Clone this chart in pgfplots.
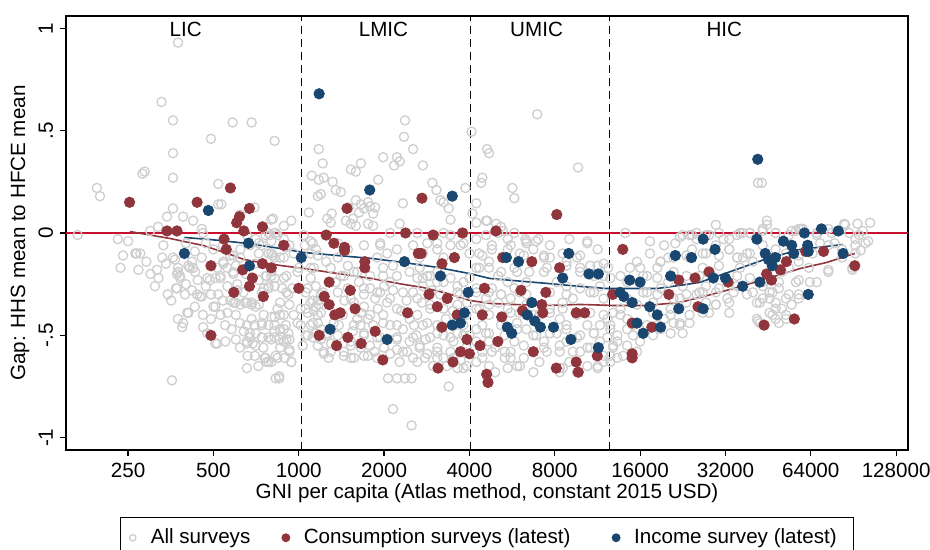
\documentclass[border=0pt]{standalone}
\usepackage{pgfplots}
\usepackage{pgfplotstable}
\usepackage{fontspec}
\setmainfont{Liberation Sans}
\pgfplotsset{compat=1.18}
\definecolor{allgrey}{RGB}{206,206,206}
\definecolor{cons}{RGB}{144,53,59}
\definecolor{inc}{RGB}{26,71,111}
\definecolor{zeroline}{RGB}{200,16,46}

\pgfplotstableread{
x y
375 0.93
328 0.64
360 0.55
584 0.54
682 0.54
490 0.46
822 0.45
360 0.39
281 0.29
286 0.30
360 0.27
194 0.22
199 0.18
520 0.24
520 0.14
533 0.14
360 0.12
343 0.08
391 0.08
424 0.06
698 0.125
800 0.065
622 0.09
319 0.03
299 0.01
455 0.02
459 0.0
166 -0.01
794 -0.01
829 0.0
240 -0.11
265 -0.10
276 -0.10
235 -0.17
272 -0.18
311 -0.26
333 -0.06
366 -0.13
372 -0.20
381 -0.21
375 -0.17
369 -0.27
397 -0.30
413 -0.17
420 -0.14
431 -0.19
455 -0.12
438 -0.30
448 -0.31
476 -0.22
508 -0.22
529 -0.21
516 -0.17
542 -0.14
500 -0.36
459 -0.40
404 -0.39
375 -0.42
391 -0.44
388 -0.46
476 -0.49
508 -0.54
551 -0.53
560 -0.26
588 -0.34
622 -0.35
656 -0.34
682 -0.34
723 -0.35
656 -0.45
682 -0.42
698 -0.45
672 -0.49
656 -0.53
688 -0.54
752 -0.40
800 -0.41
741 -0.45
782 -0.51
822 -0.51
741 -0.51
656 -0.66
758 -0.61
770 -0.63
829 -0.60
829 -0.71
357 -0.72
607 -0.28
638 -0.29
752 -0.27
782 -0.27
800 -0.21
822 -0.22
770 -0.21
588 -0.20
560 -0.17
622 -0.12
588 -0.11
723 -0.10
800 -0.10
723 -0.05
656 -0.01
782 0.0
1176 0.41
1215 0.34
1111 0.28
1176 0.26
1225 0.27
1317 0.25
1196 0.19
1167 0.18
1350 0.21
1407 0.20
1085 0.10
1307 0.095
1260 0.07
1297 0.05
1527 0.31
1590 0.30
1657 0.34
1985 0.37
2220 0.37
2170 0.33
2270 0.35
2370 0.55
2350 0.47
2530 0.41
2740 0.33
1907 0.26
1502 0.125
1590 0.16
1657 0.14
1755 0.15
1785 0.13
1698 0.12
1630 0.10
1830 0.095
1860 0.125
1466 0.06
1527 0.045
1552 0.07
1590 0.035
1755 0.045
1830 0.035
2330 0.145
2270 0.045
2960 0.245
3060 0.21
3160 0.16
3240 0.15
3380 0.12
3430 0.065
3870 0.22
4070 0.495
4230 0.145
4100 0.095
4440 0.27
4400 0.245
4620 0.41
4690 0.39
811 0.07
886 0.035
941 0.06
2100 0.0
2620 0.0
3240 0.0
6940 0.58
9670 0.32
5670 0.22
5760 0.17
4620 0.06
4970 0.045
5250 0.01
6300 -0.03
7000 -0.03
10420 -0.04
23900 -0.01
24400 -0.01
14180 0.0
41700 0.245
43000 0.245
29600 0.04
44800 0.06
56700 0.01
59100 0.02
83900 0.045
93500 0.045
103600 0.05
36900 0.0
800 -0.04
841 -0.01
811 -0.11
859 -0.12
822 -0.26
874 -0.27
841 -0.37
859 -0.40
822 -0.45
886 -0.47
853 -0.52
927 -0.58
893 -0.61
941 -0.63
853 -0.71
905 -0.52
1102 -0.04
1102 -0.10
1130 -0.17
1102 -0.22
1076 -0.27
1120 -0.33
1076 -0.39
1130 -0.38
1120 -0.44
1076 -0.50
1148 -0.49
1167 -0.55
1225 -0.58
1275 -0.61
1176 -0.35
1167 -0.40
1196 -0.30
1373 -0.12
1490 -0.16
1565 -0.19
1407 -0.21
1630 -0.24
1490 -0.27
1698 -0.30
1785 -0.27
1860 -0.32
1565 -0.34
1657 -0.39
1755 -0.42
1830 -0.45
1565 -0.45
1698 -0.50
1891 -0.51
1785 -0.55
1442 -0.58
1565 -0.61
1755 -0.60
2065 -0.71
2220 -0.71
2370 -0.71
2500 -0.71
2150 -0.86
2500 -0.94
3380 -0.75
1939 -0.06
2050 -0.10
1891 -0.12
2150 -0.16
1985 -0.21
2100 -0.24
1939 -0.29
2050 -0.34
2220 -0.37
1985 -0.40
2100 -0.45
2330 -0.47
2220 -0.51
2460 -0.53
2670 -0.56
2330 -0.58
2530 -0.61
2790 -0.61
3080 -0.58
3240 -0.61
2980 -0.65
2460 -0.19
2620 -0.22
2840 -0.21
2740 -0.26
3080 -0.24
2530 -0.29
2720 -0.34
2910 -0.37
2620 -0.40
2840 -0.44
3080 -0.45
3240 -0.50
2910 -0.51
3510 -0.53
3630 -0.49
3810 -0.45
4000 -0.50
4230 -0.53
4440 -0.58
3630 -0.26
4000 -0.22
4330 -0.17
4230 -0.29
4580 -0.32
3810 -0.05
4230 -0.03
4000 -0.10
4440 -0.11
3430 -0.06
3080 -0.08
2840 -0.05
2670 -0.12
3240 -0.12
905 -0.21
1000 -0.17
919 -0.30
1016 -0.37
1016 -0.45
1033 -0.55
1260 -0.50
1373 -0.50
1385 -0.45
1430 -0.40
1328 -0.44
1527 -0.55
1657 -0.56
841 -0.61
800 -0.63
4580 -0.01
5050 0.0
5460 -0.03
6350 -0.04
10420 -0.05
4330 -0.10
4800 -0.08
5590 -0.06
6020 -0.10
6720 -0.08
7330 -0.11
7690 -0.12
8800 -0.14
9580 -0.12
10670 -0.16
11890 -0.15
12350 -0.17
14740 -0.17
16000 -0.17
18900 -0.14
20100 -0.12
23300 -0.11
24400 -0.08
25300 -0.03
4690 -0.17
5050 -0.21
5460 -0.24
4800 -0.27
5170 -0.30
5590 -0.32
5890 -0.19
6350 -0.24
7330 -0.19
8130 -0.24
8800 -0.26
9830 -0.27
10670 -0.29
11550 -0.26
9260 -0.32
8530 -0.34
7690 -0.37
8330 -0.42
8800 -0.45
8130 -0.49
8800 -0.53
8330 -0.58
9000 -0.63
8530 -0.66
9580 -0.68
8330 -0.68
10420 -0.45
10990 -0.49
11550 -0.45
12260 -0.42
12850 -0.39
12560 -0.47
13300 -0.50
12850 -0.55
12560 -0.60
13300 -0.61
11550 -0.53
10670 -0.56
11890 -0.63
13640 -0.37
14400 -0.42
15100 -0.45
16920 -0.45
17780 -0.50
18900 -0.47
19450 -0.42
21000 -0.44
22100 -0.45
23900 -0.44
22600 -0.49
20500 -0.37
23300 -0.34
25300 -0.30
22100 -0.32
17780 -0.34
16920 -0.29
18900 -0.27
20100 -0.24
22600 -0.26
16920 -0.21
18400 -0.22
15600 -0.14
17330 -0.10
19450 -0.06
5590 -0.39
5890 -0.44
5330 -0.50
5760 -0.53
5330 -0.58
5590 -0.61
6220 -0.61
6720 -0.68
5890 -0.65
5460 -0.66
4580 -0.49
4690 -0.53
4800 -0.58
4440 -0.61
4690 -0.65
4930 -0.68
4440 -0.45
4330 -0.37
4690 -0.35
5050 -0.34
6350 -0.47
6880 -0.50
7330 -0.53
7500 -0.58
7060 -0.63
9580 -0.51
9830 -0.58
10420 -0.65
11330 -0.66
14400 -0.55
15100 -0.50
16000 -0.53
15600 -0.58
9830 -0.17
10990 -0.21
12560 -0.22
13640 -0.21
6350 -0.35
7060 -0.40
6020 -0.29
27300 -0.01
30350 0.0
33000 -0.03
36000 0.0
39000 0.0
43300 0.01
44800 0.04
48100 0.0
54800 0.01
58000 0.02
67200 0.0
73800 0.02
87500 0.0
91900 -0.03
97700 0.01
27300 -0.10
30350 -0.11
33000 -0.08
35200 -0.12
38100 -0.10
40000 -0.14
36000 -0.17
48100 -0.08
52300 -0.10
58000 -0.11
65000 -0.10
69000 -0.05
77700 -0.05
82500 -0.08
91900 -0.06
27300 -0.26
29600 -0.29
27300 -0.34
28000 -0.39
29600 -0.35
32500 -0.32
33000 -0.39
34200 -0.29
38100 -0.30
40000 -0.29
42300 -0.34
45800 -0.32
46900 -0.29
49400 -0.27
52300 -0.32
48100 -0.37
52300 -0.40
49400 -0.44
46900 -0.40
54800 -0.35
58000 -0.30
41700 -0.43
73800 -0.18
89700 -0.18
58000 -0.23
63500 -0.24
43300 -0.26
39000 -0.22
35200 -0.21
25900 -0.21
25900 -0.29
36900 -0.12
50600 -0.19
53500 -0.17
102000 -0.04
96000 -0.085
17330 -0.04
21300 -0.05
22100 -0.02
268 -0.10
360 -0.12
375 -0.19
381 -0.22
372 -0.27
408 -0.16
424 -0.17
455 -0.31
408 -0.39
508 -0.36
516 -0.54
486 -0.23
529 -0.22
542 -0.15
574 -0.11
588 -0.19
607 -0.25
574 -0.33
598 -0.34
647 -0.34
682 -0.35
705 -0.36
741 -0.29
782 -0.26
723 -0.23
764 -0.21
800 -0.19
822 -0.12
782 -0.10
741 -0.06
705 -0.03
672 -0.06
622 -0.08
764 -0.01
822 0.0
886 -0.03
927 -0.06
886 -0.12
990 -0.19
886 -0.22
905 -0.29
859 -0.34
927 -0.35
886 -0.40
822 -0.41
782 -0.45
822 -0.48
859 -0.47
919 -0.49
990 -0.44
741 -0.44
705 -0.49
672 -0.51
741 -0.51
800 -0.52
886 -0.53
927 -0.52
656 -0.54
705 -0.55
764 -0.61
782 -0.63
927 -0.57
941 -0.63
853 -0.70
316 -0.18
1041 -0.01
1120 -0.05
1167 -0.11
1102 -0.17
1148 -0.26
1058 -0.29
1102 -0.34
1148 -0.36
1196 -0.39
1167 -0.44
1102 -0.45
1058 -0.50
1120 -0.51
1196 -0.52
1260 -0.49
1225 -0.59
1297 -0.58
1442 -0.60
1527 -0.61
1698 -0.60
1891 -0.61
2100 -0.59
2220 -0.57
2410 -0.58
2620 -0.63
2270 -0.63
2840 -0.59
3080 -0.61
3330 -0.65
3510 -0.61
3810 -0.58
3810 -0.66
1373 -0.05
1490 -0.08
1698 -0.06
1939 -0.05
2220 -0.08
2530 -0.06
2740 -0.10
3080 -0.05
3430 -0.01
3720 -0.06
3810 0.0
1297 -0.17
1442 -0.21
1610 -0.19
1785 -0.21
1985 -0.17
2220 -0.21
2740 -0.22
3080 -0.19
3430 -0.22
3810 -0.24
2670 -0.17
2910 -0.21
3240 -0.24
3630 -0.29
3330 -0.32
1373 -0.29
1527 -0.32
1698 -0.27
1891 -0.29
2100 -0.32
2330 -0.29
2620 -0.32
2910 -0.35
3240 -0.37
3630 -0.35
3920 -0.34
1407 -0.39
1610 -0.42
1785 -0.40
1985 -0.44
2220 -0.45
2460 -0.42
2740 -0.45
3080 -0.49
3430 -0.51
3810 -0.50
1698 -0.49
1939 -0.51
2220 -0.52
2530 -0.51
1527 -0.53
2670 -0.55
3080 -0.56
3430 -0.58
3720 -0.62
3920 -0.65
3630 -0.66
1058 -0.37
1167 -0.33
1215 -0.29
4230 0.05
4580 0.06
5170 0.03
5760 0.0
6350 -0.05
6880 -0.04
7690 -0.06
9000 -0.03
11330 -0.08
9830 -0.11
8530 -0.10
7330 -0.12
6220 -0.11
5460 -0.08
4800 -0.06
4230 -0.17
4690 -0.14
5170 -0.19
5760 -0.17
6500 -0.19
7500 -0.17
8800 -0.16
9830 -0.19
11330 -0.16
11890 -0.21
4230 -0.27
4690 -0.29
5170 -0.30
5760 -0.27
6350 -0.30
7690 -0.29
8800 -0.30
10990 -0.29
11890 -0.32
4230 -0.37
4690 -0.40
5460 -0.37
6020 -0.39
6720 -0.40
7690 -0.39
8530 -0.37
9580 -0.40
10670 -0.39
11890 -0.40
12560 -0.45
4230 -0.47
4690 -0.49
5170 -0.45
5890 -0.47
6720 -0.50
7690 -0.49
8800 -0.47
9830 -0.50
10990 -0.49
12260 -0.51
13300 -0.53
4330 -0.55
4930 -0.56
5590 -0.58
6220 -0.55
7330 -0.56
8330 -0.55
9260 -0.58
10420 -0.56
11890 -0.60
12850 -0.56
4230 -0.63
5330 -0.61
6020 -0.65
8330 -0.66
11330 -0.65
12560 -0.63
13950 -0.60
13640 -0.40
14400 -0.47
16400 -0.49
18400 -0.45
20500 -0.49
22100 -0.44
23900 -0.40
26600 -0.39
29600 -0.35
33000 -0.34
20500 -0.40
17780 -0.39
15600 -0.35
14400 -0.32
16400 -0.29
18400 -0.30
21000 -0.32
23300 -0.30
26600 -0.29
30350 -0.27
35200 -0.26
14400 -0.24
16400 -0.21
18400 -0.17
21000 -0.19
23300 -0.21
26600 -0.17
30350 -0.16
35200 -0.12
39000 -0.10
43300 -0.06
33000 -0.08
29600 -0.06
26600 -0.10
23900 -0.12
21000 -0.12
18900 -0.14
22600 -0.01
25300 0.0
28000 -0.01
31500 -0.03
35200 -0.01
39000 0.0
43300 0.02
48100 0.0
53500 -0.01
60000 0.02
67200 -0.01
75800 0.0
84600 0.04
94800 -0.01
99700 -0.05
91900 -0.10
73800 -0.06
43300 -0.24
45800 -0.29
48100 -0.34
50600 -0.37
45800 -0.39
52300 -0.42
48100 -0.42
43300 -0.32
53500 -0.30
58000 -0.32
41300 -0.34
49400 -0.24
56700 -0.24
67200 -0.24
73800 -0.19
63000 -0.17
58000 -0.14
82500 -0.12
89700 -0.17
41300 -0.42
42300 -0.44
300 -0.20
320 -0.22
340 -0.15
355 -0.33
345 -0.30
400 -0.25
420 -0.28
440 -0.23
470 -0.26
490 -0.30
520 -0.30
540 -0.33
560 -0.39
600 -0.40
620 -0.44
640 -0.48
580 -0.47
550 -0.45
530 -0.40
490 -0.42
460 -0.46
430 -0.36
620 -0.56
700 -0.60
720 -0.65
660 -0.60
600 -0.52
750 -0.56
860 -0.56
900 -0.45
960 -0.40
950 -0.27
960 -0.10
900 -0.07
700 -0.15
650 -0.20
600 -0.16
540 -0.06
500 -0.08
470 -0.05
430 -0.09
400 -0.05
330 -0.12
290 -0.14
250 -0.04
230 -0.03
1050 -0.06
1150 -0.08
1250 -0.14
1350 -0.24
1450 -0.33
1550 -0.48
1650 -0.45
1700 -0.36
1900 -0.37
2000 -0.26
2150 -0.28
2300 -0.38
2400 -0.33
2550 -0.45
2600 -0.50
2800 -0.52
2950 -0.28
3150 -0.30
3300 -0.42
3500 -0.38
3600 -0.44
3700 -0.30
3900 -0.40
3900 -0.56
2000 -0.56
1850 -0.58
1300 -0.54
1200 -0.47
}\allsurveys

\pgfplotstableread{
x y
253 0.15
343 0.01
372 0.01
438 0.15
574 0.22
670 0.12
618 0.08
604 0.05
640 0.01
745 0.03
545 -0.03
555 -0.08
490 -0.16
634 -0.18
745 -0.15
800 -0.17
686 -0.22
670 -0.26
590 -0.29
750 -0.31
490 -0.50
885 -0.06
1000 -0.27
1250 -0.01
1330 -0.05
1450 -0.07
1450 -0.085
1710 -0.14
1710 -0.17
1280 -0.24
1520 -0.28
1230 -0.31
1280 -0.35
1340 -0.40
1400 -0.39
1580 -0.37
1180 -0.50
1360 -0.55
1490 -0.51
1660 -0.54
1860 -0.48
1980 -0.62
2380 0.0
2980 -0.01
3780 0.0
2640 -0.10
2700 -0.10
3200 -0.15
3540 -0.12
2880 -0.30
3340 -0.32
3080 -0.36
2420 -0.39
3620 -0.40
3200 -0.46
3920 -0.52
3720 -0.58
4000 -0.59
4360 -0.55
3500 -0.63
3100 -0.66
4520 -0.27
4440 -0.40
4600 -0.69
4650 -0.73
1480 0.12
2720 0.17
8130 0.09
4960 0.01
5240 -0.12
6640 -0.14
8320 -0.17
13900 -0.08
6080 -0.28
7440 -0.29
7200 -0.35
7260 -0.39
6160 -0.38
5200 -0.41
5040 -0.53
9520 -0.39
10200 -0.39
6720 -0.58
11300 -0.60
9520 -0.63
9680 -0.68
8100 -0.66
12800 -0.30
17600 -0.46
15000 -0.44
15000 -0.59
15000 -0.61
20200 -0.30
21900 -0.23
25000 -0.22
25600 -0.36
28000 -0.19
32700 -0.24
52500 -0.14
50000 -0.18
44700 -0.20
46500 -0.23
61400 -0.09
71000 -0.09
91500 -0.16
56000 -0.42
43800 -0.45
}\consumption

\pgfplotstableread{
x y
480 0.11
665 -0.05
395 -0.10
670 -0.16
1020 -0.12
1180 0.68
1780 0.21
3480 0.18
1290 -0.47
2050 -0.52
2360 -0.14
3160 -0.21
3960 -0.29
3840 -0.39
3720 -0.44
3480 -0.45
5400 -0.12
5960 -0.14
8960 -0.10
8530 -0.22
10560 -0.20
11400 -0.20
6640 -0.34
6400 -0.40
6800 -0.43
7120 -0.46
5440 -0.46
5640 -0.49
7920 -0.46
9120 -0.52
11400 -0.56
13600 -0.29
14000 -0.31
15000 -0.34
14700 -0.23
16000 -0.24
17300 -0.36
15600 -0.44
16400 -0.49
18400 -0.40
18900 -0.46
20500 -0.21
21300 -0.11
24300 -0.12
21900 -0.37
26700 -0.03
29400 -0.08
29000 -0.22
32000 -0.22
36800 -0.26
26700 -0.37
41300 -0.03
44200 -0.10
45400 -0.13
48000 -0.12
46800 -0.16
42300 -0.24
51200 -0.04
54800 -0.06
55700 -0.10
60800 0.00
62400 -0.06
62700 -0.09
69800 0.02
80000 0.01
83200 -0.10
62700 -0.30
41600 0.36
}\income

\pgfplotstableread{
x y
254 0.007
352 -0.027
460 -0.061
560 -0.100
640 -0.129
735 -0.144
865 -0.159
1040 -0.173
1370 -0.198
1800 -0.222
2340 -0.251
2740 -0.266
3340 -0.295
4000 -0.329
4720 -0.344
5680 -0.349
7480 -0.354
9840 -0.349
12800 -0.354
16900 -0.354
22100 -0.339
26000 -0.315
34200 -0.271
45100 -0.222
58900 -0.173
72800 -0.144
91500 -0.100
}\conslowess

\pgfplotstableread{
x y
395 -0.022
488 -0.032
660 -0.051
865 -0.076
1040 -0.095
1370 -0.110
1800 -0.124
2340 -0.144
3080 -0.168
4000 -0.198
4720 -0.222
5680 -0.232
7480 -0.246
9840 -0.261
12160 -0.271
14720 -0.271
18400 -0.271
22100 -0.256
26000 -0.241
34200 -0.183
45100 -0.124
58900 -0.080
67200 -0.071
83200 -0.056
}\inclowess

\begin{document}
\begin{tikzpicture}
\begin{axis}[
  scale only axis, width=421pt, height=217pt,
  font=\fontsize{10.3}{12.4}\selectfont,
  xmode=log, log basis x=2,
  xmin=151, xmax=141000, ymin=-1.06, ymax=1.06,
  xtick={250,500,1000,2000,4000,8000,16000,32000,64000,128000},
  xticklabels={250,500,1000,2000,4000,8000,16000,32000,64000,128000},
  ytick={-1,-0.5,0,0.5,1},
  yticklabels={-1,-.5,0,.5,1},
  yticklabel style={rotate=90, anchor=south},
  minor xtick={}, minor ytick={},
  tick align=outside, tick pos=left, major tick length=3pt,
  every tick/.style={black, line width=0.6pt},
  axis line style={line width=0.65pt},
  every axis x label/.style={at={(axis description cs:0.5,0)}, yshift=-21.5pt, anchor=center},
  every axis y label/.style={at={(axis description cs:0,0.5)}, xshift=-23pt, rotate=90, anchor=center},
  xlabel={GNI per capita (Atlas method, constant 2015 USD)},
  ylabel={Gap: HHS mean to HFCE mean},
  legend columns=3,
  legend style={at={(axis description cs:0.5,0)}, yshift=-33.5pt, anchor=north,
    draw=black, line width=0.5pt, inner xsep=3pt, inner ysep=5.65pt,
    nodes={inner sep=0pt},
    /tikz/column sep=0pt,
    /tikz/column 2/.style={column sep=14.5pt},
    /tikz/column 4/.style={column sep=19.5pt}},
  legend image code/.code={\draw[#1] plot coordinates {(0pt,0pt)}; \path (-3pt,0pt) (8.75pt,0pt);},
  clip=true,
]
\addplot[forget plot, zeroline, line width=1pt] coordinates {(151,0) (141000,0)};
\addplot[forget plot, black, line width=0.6pt, dash pattern=on 4pt off 2.5pt] coordinates {(1025,-1.06) (1025,1.06)};
\addplot[forget plot, black, line width=0.6pt, dash pattern=on 4pt off 2.5pt] coordinates {(4035,-1.06) (4035,1.06)};
\addplot[forget plot, black, line width=0.6pt, dash pattern=on 4pt off 2.5pt] coordinates {(12475,-1.06) (12475,1.06)};
\addplot[only marks, mark=o, mark size=2.3pt, allgrey, mark options={line width=0.65pt}, legend image post style={mark size=1.6pt}] table {\allsurveys};
\addlegendentry{All surveys}
\addplot[only marks, mark=*, mark size=2.6pt, cons, mark options={line width=0.4pt}, legend image post style={mark size=2pt}] table {\consumption};
\addlegendentry{Consumption surveys (latest)}
\addplot[only marks, mark=*, mark size=2.6pt, inc, mark options={line width=0.4pt}, legend image post style={mark size=2pt}] table {\income};
\addlegendentry{Income survey (latest)\rule{5.5pt}{0pt}}
\addplot[forget plot, cons, line width=0.8pt] table {\conslowess};
\addplot[forget plot, inc, line width=0.8pt] table {\inclowess};
\node at (axis cs:399,0.993) {LIC};
\node at (axis cs:1990,0.993) {LMIC};
\node at (axis cs:6900,0.993) {UMIC};
\node at (axis cs:31700,0.993) {HIC};
\end{axis}
\pgfresetboundingbox
\path[use as bounding box] (-33pt,-50pt) rectangle (432pt,225pt);
\end{tikzpicture}
\end{document}
